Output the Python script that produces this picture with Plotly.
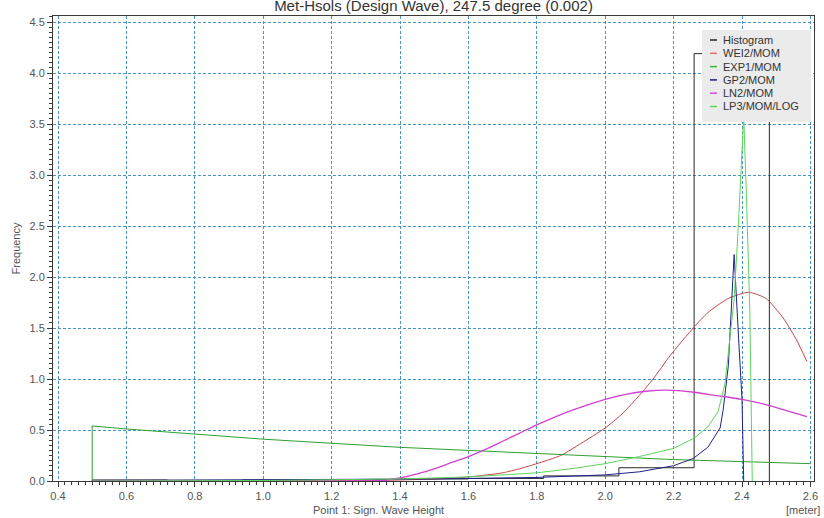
import plotly.graph_objects as go

# ---------------- data ----------------
hist_edges = [0.50, 0.72, 0.94, 1.16, 1.38, 1.60, 1.82, 2.04, 2.26, 2.48]
hist_heights = [0.010, 0.006, 0.010, 0.015, 0.020, 0.025, 0.050, 0.13, 4.19]

wei_x = [0.50, 1.00, 1.30, 1.40, 1.50, 1.60, 1.70, 1.75, 1.80, 1.87, 1.93, 2.00, 2.05, 2.10,
         2.14, 2.19, 2.26, 2.30, 2.36, 2.42, 2.47, 2.52, 2.56, 2.59]
wei_y = [0.0, 0.0, 0.003, 0.01, 0.02, 0.04, 0.08, 0.12, 0.17, 0.25, 0.37, 0.52, 0.66, 0.84,
         1.00, 1.23, 1.51, 1.65, 1.79, 1.85, 1.79, 1.60, 1.38, 1.17]

exp_x = [0.50, 0.50, 0.60, 0.80, 1.00, 1.20, 1.40, 1.60, 1.80, 2.00, 2.20, 2.40, 2.60]
exp_y = [0.0, 0.54, 0.51, 0.46, 0.41, 0.37, 0.33, 0.30, 0.27, 0.24, 0.21, 0.19, 0.17]

gp2_x = [0.50, 1.00, 1.50, 1.80, 2.00, 2.10, 2.20, 2.257, 2.30, 2.336, 2.345, 2.36, 2.37,
         2.377, 2.39, 2.40, 2.405]
gp2_y = [0.005, 0.01, 0.02, 0.035, 0.06, 0.09, 0.15, 0.22, 0.33, 0.52, 0.70, 1.13, 1.78,
         2.22, 1.40, 0.80, 0.0]

ln2_x = [0.50, 1.00, 1.30, 1.35, 1.40, 1.45, 1.50, 1.55, 1.60, 1.65, 1.70, 1.75, 1.80, 1.90,
         2.00, 2.06, 2.12, 2.18, 2.26, 2.32, 2.40, 2.48, 2.54, 2.59]
ln2_y = [0.0, 0.0, 0.0, 0.005, 0.03, 0.07, 0.12, 0.18, 0.24, 0.31, 0.39, 0.47, 0.55, 0.69,
         0.80, 0.85, 0.88, 0.89, 0.87, 0.84, 0.80, 0.74, 0.68, 0.63]

lp3_x = [0.50, 1.00, 1.40, 1.60, 1.80, 1.90, 2.00, 2.10, 2.20, 2.26, 2.30, 2.33, 2.35, 2.365,
         2.377, 2.39, 2.40, 2.405, 2.413, 2.423, 2.43]
lp3_y = [0.0, 0.005, 0.02, 0.04, 0.08, 0.12, 0.17, 0.24, 0.32, 0.42, 0.53, 0.68, 0.95, 1.39,
         1.78, 2.55, 3.30, 3.58, 2.79, 1.65, 0.0]

series_names = ["Histogram", "WEI2/MOM", "EXP1/MOM", "GP2/MOM", "LN2/MOM", "LP3/MOM/LOG"]
line_colors = ["#2a2a2a", "#c04848", "#2fa02f", "#20208a", "#d040d0", "#5cd65c"]
legend_colors = ["#222222", "#e07070", "#3cb43c", "#1c1c80", "#d84fd8", "#5cd65c"]

x_ticks = [0.4, 0.6, 0.8, 1.0, 1.2, 1.4, 1.6, 1.8, 2.0, 2.2, 2.4, 2.6]
y_ticks = [0.0, 0.5, 1.0, 1.5, 2.0, 2.5, 3.0, 3.5, 4.0, 4.5]

title_text = "Met-Hsols (Design Wave), 247.5 degree (0.002)"
x_title = "Point 1: Sign. Wave Height"
x_unit = "[meter]"
y_title = "Frequency"

# ---------------- layout geometry ----------------
W, H = 824, 518
ML, MR, MT, MB = 53, 10, 16, 37
PW, PH = W - ML - MR, H - MT - MB
FONT = "Liberation Sans, Arial, sans-serif"


def px(x):
    return (x - ML) / PW


def py(y):
    return (H - MB - y) / PH


# histogram as a step outline
hx = [hist_edges[0]] + hist_edges + [hist_edges[-1]]
hy = [0.0] + hist_heights + [hist_heights[-1], 0.0]
hy = hy[:len(hx)]

fig = go.Figure()
fig.add_trace(go.Scatter(x=hx, y=hy, mode="lines", line=dict(color=line_colors[0], width=1, shape="hv"),
                         name=series_names[0], showlegend=False))
fig.add_trace(go.Scatter(x=wei_x, y=wei_y, mode="lines", line=dict(color=line_colors[1], width=1, shape="spline", smoothing=0.6),
                         name=series_names[1], showlegend=False))
fig.add_trace(go.Scatter(x=exp_x, y=exp_y, mode="lines", line=dict(color=line_colors[2], width=1),
                         name=series_names[2], showlegend=False))
fig.add_trace(go.Scatter(x=gp2_x, y=gp2_y, mode="lines", line=dict(color=line_colors[3], width=1),
                         name=series_names[3], showlegend=False))
fig.add_trace(go.Scatter(x=ln2_x, y=ln2_y, mode="lines", line=dict(color=line_colors[4], width=1.3, shape="spline", smoothing=0.6),
                         name=series_names[4], showlegend=False))
fig.add_trace(go.Scatter(x=lp3_x, y=lp3_y, mode="lines", line=dict(color=line_colors[5], width=1),
                         name=series_names[5], showlegend=False))

axis_common = dict(
    showline=True, linecolor="#3a3a3a", linewidth=1, mirror=True,
    showgrid=True, gridcolor="#4a93c6", gridwidth=1, griddash="3px,2px",
    zeroline=False, ticks="outside", ticklen=5, tickcolor="#3a3a3a",
    tickfont=dict(family=FONT, size=11, color="#555555"),
    tickformat=".1f",
)

fig.update_layout(
    width=W, height=H,
    margin=dict(l=ML, r=MR, t=MT, b=MB, autoexpand=False),
    paper_bgcolor="white", plot_bgcolor="white",
    showlegend=False,
    title=dict(text=title_text, font=dict(family=FONT, size=15, color="#333333"),
               x=0.5, xref="paper", xanchor="center", y=1 - 5.5 / H, yref="container", yanchor="middle"),
    xaxis=dict(range=[0.4 - 5 / 342, 0.4 - 5 / 342 + PW / 342], tickvals=x_ticks,
               minor=dict(dtick=0.02, tick0=0.4, ticks="outside", ticklen=3, tickcolor="#3a3a3a", showgrid=False),
               **axis_common),
    yaxis=dict(range=[0, PH / 102], tickvals=y_ticks,
               minor=dict(dtick=0.05, tick0=0, ticks="outside", ticklen=3, tickcolor="#3a3a3a", showgrid=False),
               title=dict(text=y_title, font=dict(family=FONT, size=11, color="#555555"), standoff=6),
               **axis_common),
)

annotations = [
    dict(text=x_title, xref="paper", yref="paper", x=px(378), y=py(510), xanchor="center", yanchor="middle",
         showarrow=False, font=dict(family=FONT, size=11, color="#555555")),
    dict(text=x_unit, xref="paper", yref="paper", x=px(822), y=py(510), xanchor="right", yanchor="middle",
         showarrow=False, font=dict(family=FONT, size=11, color="#555555")),
]

shapes = [dict(type="rect", xref="paper", yref="paper", x0=px(702), x1=px(811), y0=py(122), y1=py(30),
               fillcolor="#ebebeb", line=dict(width=0), layer="above")]

for i, (nm, col) in enumerate(zip(series_names, legend_colors)):
    yc = 40 + 13.3 * i
    shapes.append(dict(type="line", xref="paper", yref="paper", x0=px(710), x1=px(717), y0=py(yc), y1=py(yc),
                       line=dict(color=col, width=1.5), layer="above"))
    annotations.append(dict(text=nm, xref="paper", yref="paper", x=px(721), y=py(yc), xanchor="left",
                            yanchor="middle", showarrow=False,
                            font=dict(family=FONT, size=11, color="#333333")))

fig.update_layout(annotations=annotations, shapes=shapes)

fig.write_html(
    "out.html",
    config={"displayModeBar": False},
    post_script="document.body.style.margin='0';document.body.style.overflow='hidden';",
)
